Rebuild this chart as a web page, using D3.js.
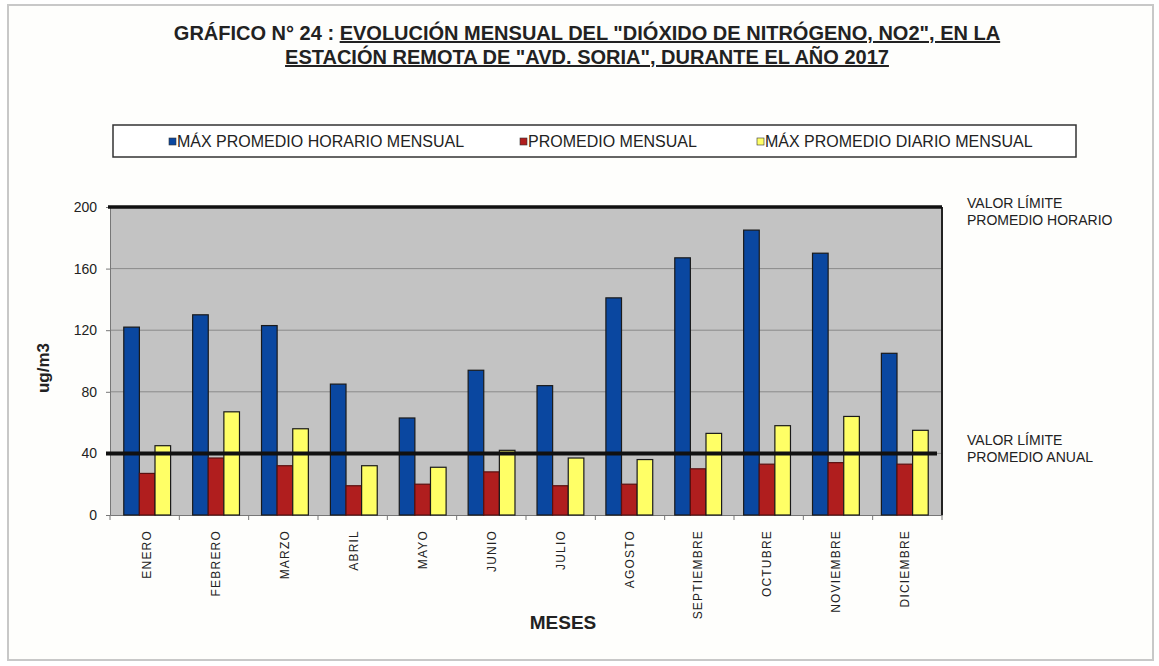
<!DOCTYPE html>
<html><head><meta charset="utf-8">
<script src="https://cdn.jsdelivr.net/npm/d3@7"></script>
<style>
body{margin:0;background:#fff;}
svg{display:block;}
</style></head>
<body><svg id="c" width="1159" height="666"></svg>
<script>
const months = ["ENERO","FEBRERO","MARZO","ABRIL","MAYO","JUNIO","JULIO","AGOSTO","SEPTIEMBRE","OCTUBRE","NOVIEMBRE","DICIEMBRE"];
const seriesNames = ["MÁX PROMEDIO HORARIO  MENSUAL","PROMEDIO MENSUAL","MÁX PROMEDIO DIARIO MENSUAL"];
const maxHorario = [122,130,123,85,63,94,84,141,167,185,170,105];
const promedioMensual = [27,37,32,19,20,28,19,20,30,33,34,33];
const maxDiario = [45,67,56,32,31,42,37,36,53,58,64,55];
const yTicks = [0,40,80,120,160,200];
const limitValues = [200,40];
const limitLabels = [["VALOR LÍMITE","PROMEDIO HORARIO"],["VALOR LÍMITE","PROMEDIO ANUAL"]];
const colors = ["#0a47a0","#b01e1e","#ffff66"];

(function(){
const svg = d3.select("#c");
const sans = "'Liberation Sans',Arial,sans-serif";

// outer frame
svg.append("rect").attr("x",8).attr("y",5).attr("width",1145).attr("height",655)
  .attr("fill","#fefefc").attr("stroke","#c8c8c8").attr("stroke-width",2);

// title
const t1 = svg.append("text").attr("x",587).attr("y",40).attr("text-anchor","middle")
  .attr("font-family",sans).attr("font-weight","bold").attr("font-size",20).attr("fill","#222");
t1.append("tspan").text("GRÁFICO N° 24  : ");
t1.append("tspan").attr("text-decoration","underline").text("EVOLUCIÓN MENSUAL DEL \"DIÓXIDO DE NITRÓGENO, NO2\", EN LA");
svg.append("text").attr("x",587).attr("y",64).attr("text-anchor","middle")
  .attr("font-family",sans).attr("font-weight","bold").attr("font-size",20).attr("fill","#222")
  .attr("text-decoration","underline").text("ESTACIÓN REMOTA DE \"AVD. SORIA\", DURANTE EL AÑO 2017");

// legend
svg.append("rect").attr("x",113).attr("y",125).attr("width",963).attr("height",32)
  .attr("fill","#fff").attr("stroke","#333").attr("stroke-width",1.5);
const legX = [169,520,757];
seriesNames.forEach((s,i)=>{
  svg.append("rect").attr("x",legX[i]).attr("y",138).attr("width",7).attr("height",7)
    .attr("fill",colors[i]).attr("stroke","#333").attr("stroke-width",0.6);
  svg.append("text").attr("x",legX[i]+8).attr("y",147).attr("font-family",sans)
    .attr("font-size",16).attr("fill","#222").text(s);
});

// scales
const pL=110,pR=942,pT=207,pB=515;
const y = d3.scaleLinear().domain([0,200]).range([pB,pT]);
const x0 = d3.scaleBand().domain(months).range([pL,pR]).paddingInner(0.32).paddingOuter(0.2);
const x1 = d3.scaleBand().domain([0,1,2]).range([0,x0.bandwidth()]);

// plot area
svg.append("rect").attr("x",pL).attr("y",pT).attr("width",pR-pL).attr("height",pB-pT)
  .attr("fill","#c3c3c3");
// gridlines
svg.append("g").selectAll("line").data(yTicks.filter(v=>v>0 && v<200)).join("line")
  .attr("x1",pL).attr("x2",pR).attr("y1",d=>y(d)).attr("y2",d=>y(d))
  .attr("stroke","#8a8a8a").attr("stroke-width",1);
// right border
svg.append("line").attr("x1",pR).attr("x2",pR).attr("y1",pT).attr("y2",pB)
  .attr("stroke","#222").attr("stroke-width",2);

// y axis
const yAxis = svg.append("g").attr("transform",`translate(${pL},0)`)
  .call(d3.axisLeft(y).tickValues(yTicks).tickSize(4).tickPadding(9));
yAxis.select(".domain").attr("stroke","#777");
yAxis.selectAll(".tick line").attr("stroke","#777");
yAxis.selectAll("text").attr("font-family",sans).attr("font-size",14).attr("fill","#222");

// x axis
const xAxis = svg.append("g").attr("transform",`translate(0,${pB})`)
  .call(d3.axisBottom(x0).tickSize(0).tickPadding(0));
xAxis.select(".domain").attr("stroke","#777");
xAxis.selectAll("text").attr("transform","rotate(-90)").attr("text-anchor","end")
  .attr("x",-15).attr("y",0).attr("dy","0.35em")
  .attr("font-family",sans).attr("font-size",12).attr("letter-spacing","1.2px").attr("fill","#222");
// tick marks between groups
svg.append("g").selectAll("line").data(d3.range(13)).join("line")
  .attr("x1",i=>pL+i*(pR-pL)/12).attr("x2",i=>pL+i*(pR-pL)/12)
  .attr("y1",pB).attr("y2",pB+5).attr("stroke","#777");

// bars
const seriesData = [maxHorario,promedioMensual,maxDiario];
seriesData.forEach((vals,si)=>{
  svg.append("g").selectAll("rect").data(vals).join("rect")
    .attr("x",(d,i)=>x0(months[i])+x1(si)).attr("width",x1.bandwidth())
    .attr("y",d=>y(d)).attr("height",d=>pB-y(d))
    .attr("fill",colors[si]).attr("stroke",si===1?"#5a1010":"#1a1a1a").attr("stroke-width",1.2);
});

// limit lines
svg.append("line").attr("x1",pL-2).attr("x2",pR).attr("y1",y(limitValues[0])).attr("y2",y(limitValues[0]))
  .attr("stroke","#111").attr("stroke-width",3.5);
svg.append("line").attr("x1",pL-4).attr("x2",pR-5).attr("y1",y(limitValues[1])).attr("y2",y(limitValues[1]))
  .attr("stroke","#111").attr("stroke-width",4);
const labY = [200,437];
limitLabels.forEach((ls,i)=>{
  ls.forEach((l,j)=>{
    svg.append("text").attr("x",967).attr("y",labY[i]+j*17+8).attr("font-family",sans)
      .attr("font-size",14).attr("fill","#222").text(l);
  });
});

// axis titles
svg.append("text").attr("transform","translate(49,368) rotate(-90)").attr("text-anchor","middle")
  .attr("font-family",sans).attr("font-weight","bold").attr("font-size",17).attr("fill","#222").text("ug/m3");
svg.append("text").attr("x",563).attr("y",629).attr("text-anchor","middle")
  .attr("font-family",sans).attr("font-weight","bold").attr("font-size",19).attr("fill","#222").text("MESES");
})();
</script></body></html>
